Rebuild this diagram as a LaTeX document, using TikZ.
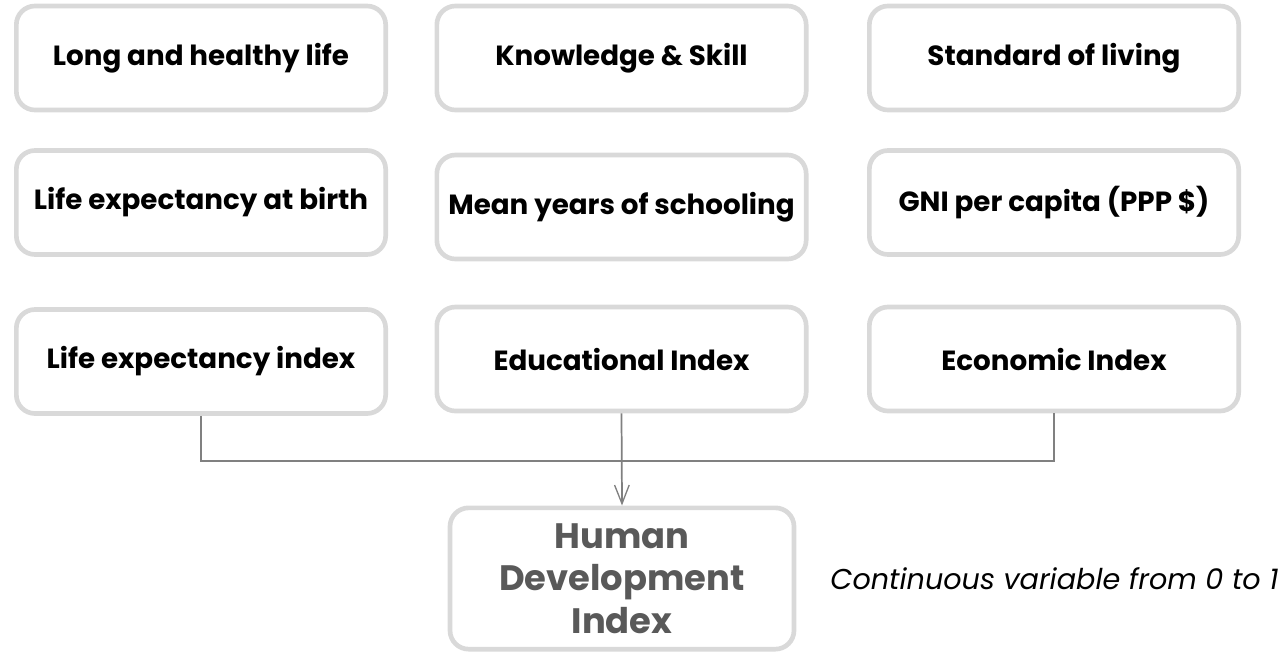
\documentclass[tikz,border=0pt]{standalone}
\usepackage{fontspec}
\setmainfont{Poppins}
\usetikzlibrary{arrows.meta, positioning}

\definecolor{boxgray}{RGB}{217,217,217}
\definecolor{linegray}{RGB}{128,128,128}
\definecolor{hdigray}{RGB}{89,89,89}

\begin{document}
\begin{tikzpicture}[
        x=0.75pt, y=-0.75pt,
        box/.style={draw=boxgray, line width=3.5pt, rounded corners=14pt, fill=white,
          minimum width=277pt, minimum height=78pt, align=center,
          font=\fontsize{20.8}{25}\selectfont\bfseries},
        conn/.style={draw=linegray, line width=1.3pt},
        >={Straight Barb[length=14pt, width=11pt, line width=1pt]} % arrowhead style
      ]
      \useasboundingbox (0,0) rectangle (1288,657);

      % Nodes: first row
      \node (life) [box] at (201,58) {Long and healthy life};
      \node (know) [box] at (621.5,58) {Knowledge \& Skill};
      \node (live) [box] at (1054,58) {Standard of living};

      % second row
      \node (lexp) [box] at (201,202.5) {Life expectancy at birth};
      \node (mys) [box] at (621.5,207) {Mean years of schooling};
      \node (gni) [box] at (1054,202.5) {GNI per capita (PPP \$)};

      % third row
      \node (lei) [box] at (201,361.5) {Life expectancy index};
      \node (edu) [box] at (621.5,359) {Educational Index};
      \node (eci) [box] at (1054,359) {Economic Index};

      % result
      \node (hdi) [box, minimum width=258pt, minimum height=106pt, text=hdigray,
        font=\fontsize{26.5}{32}\selectfont\bfseries] at (622,578.5) {Human\\Development\\Index};
      \node (note) [right=22pt of hdi, font=\fontsize{21.5}{25}\selectfont\itshape] {Continuous variable from 0 to 1};

      % Arrows
      \draw[conn] (lei.south) -- ++(0,45) -| (eci.south);
      \draw[conn, ->] (edu.south) -- (hdi.north);

    \end{tikzpicture}
\end{document}
